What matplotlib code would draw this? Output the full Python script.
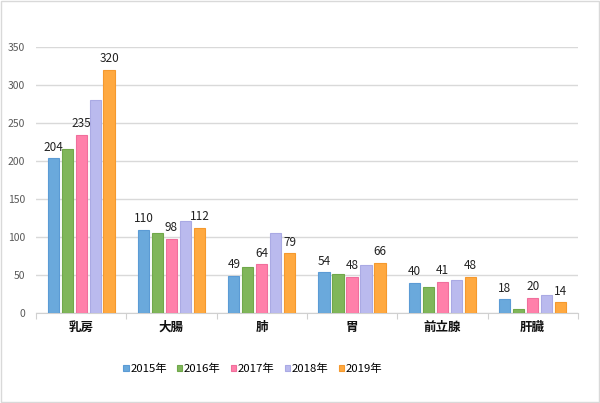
import matplotlib.pyplot as plt
import numpy as np

plt.rcParams['font.family'] = ['Noto Sans CJK JP', 'DejaVu Sans']

categories = ['乳房', '大腸', '肺', '胃', '前立腺', '肝臓']
years = ['2015年', '2016年', '2017年', '2018年', '2019年']
v2015 = [204, 110, 49, 54, 40, 18]
v2016 = [216, 105, 61, 52, 35, 5]
v2017 = [235, 98, 64, 48, 41, 20]
v2018 = [280, 121, 105, 63, 44, 24]
v2019 = [320, 112, 79, 66, 48, 14]
series = [v2015, v2016, v2017, v2018, v2019]
labeled = [True, False, True, False, True]

colors = ['#6aa9dc', '#80b65a', '#ff80aa', '#babaee', '#ffa940']
edges = ['#5b9bd5', '#70a84a', '#f06f9c', '#aaaae4', '#f5992e']

fig = plt.figure(figsize=(6, 4.03), dpi=100)
ax = fig.add_axes([0.06, 0.223, 0.903, 0.66])

x = np.arange(len(categories))
step = 0.155
width = 0.125
for i, (vals, lab) in enumerate(zip(series, years)):
    pos = x + (i - 2) * step
    ax.bar(pos, vals, width, color=colors[i], edgecolor=edges[i],
           linewidth=0.8, label=lab, zorder=3)
    if labeled[i]:
        for xp, v in zip(pos, vals):
            ax.text(xp, v + 6, str(v), ha='center', va='bottom', fontsize=8.5,
                    color='#222222', zorder=4)

ax.set_xlim(-0.5, len(categories) - 0.5)
ax.set_ylim(0, 350)
ax.set_yticks(range(0, 351, 50))
ax.yaxis.grid(True, color='#d9d9d9', linewidth=1)
ax.set_axisbelow(True)
for s in ['top', 'right', 'left']:
    ax.spines[s].set_visible(False)
ax.spines['bottom'].set_color('#d0d0d0')
ax.tick_params(axis='y', length=0, labelsize=7.5, labelcolor='#595959', pad=8)

ax.set_xticks(np.arange(-0.5, len(categories), 1.0))
ax.set_xticklabels([])
ax.tick_params(axis='x', length=4, color='#d0d0d0', direction='out')
for xi, c in zip(x, categories):
    ax.text(xi, -10, c, ha='center', va='top', fontsize=9, fontweight='bold',
            color='#111111')

ax.legend(loc='center', bbox_to_anchor=(0.4, -0.21), ncol=5, frameon=False,
          fontsize=8.2, handlelength=0.45, handleheight=0.45, handletextpad=0.15,
          columnspacing=0.9)

border = plt.Rectangle((0.002, 0.002), 0.996, 0.996, transform=fig.transFigure,
                       fill=False, edgecolor='#d9d9d9', linewidth=1)
fig.patches.append(border)

fig.savefig('out.png', dpi=100)
